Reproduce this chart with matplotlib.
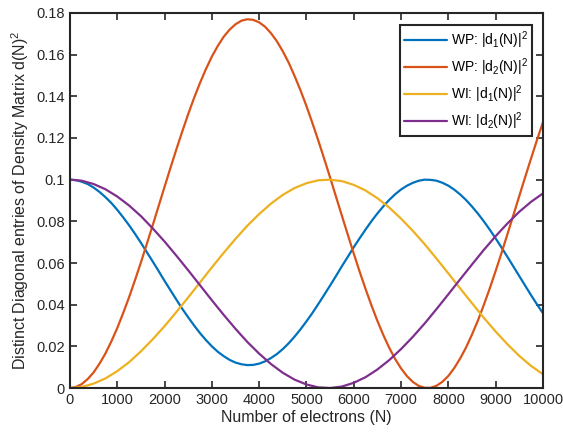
import numpy as np
import matplotlib
matplotlib.use("Agg")
from matplotlib import pyplot as plt

# valores lidos do grafico
# curvas WP lidas a cada 125 eletrons, curvas WI a cada 250
n_wp = list(range(0, 10001, 125))
n_wi = list(range(0, 10001, 250))

wp_d1 = [0.1000, 0.0998, 0.0990, 0.0979, 0.0962, 0.0941, 0.0916, 0.0888, 0.0855, 0.0819,
         0.0781, 0.0740, 0.0697, 0.0652, 0.0607, 0.0561, 0.0514, 0.0469, 0.0424, 0.0380,
         0.0339, 0.0300, 0.0263, 0.0230, 0.0200, 0.0174, 0.0153, 0.0135, 0.0122, 0.0114,
         0.0110, 0.0111, 0.0117, 0.0128, 0.0144, 0.0163, 0.0187, 0.0215, 0.0247, 0.0282,
         0.0320, 0.0360, 0.0403, 0.0447, 0.0492, 0.0538, 0.0585, 0.0630, 0.0676, 0.0719,
         0.0761, 0.0801, 0.0838, 0.0872, 0.0903, 0.0930, 0.0953, 0.0971, 0.0985, 0.0995,
         0.1000, 0.0999, 0.0995, 0.0985, 0.0971, 0.0952, 0.0929, 0.0902, 0.0871, 0.0837,
         0.0800, 0.0760, 0.0718, 0.0674, 0.0629, 0.0583, 0.0537, 0.0491, 0.0445, 0.0401,
         0.0359]
wp_d2 = [0.0000, 0.0005, 0.0019, 0.0043, 0.0075, 0.0117, 0.0166, 0.0224, 0.0288, 0.0360,
         0.0436, 0.0518, 0.0603, 0.0692, 0.0782, 0.0874, 0.0966, 0.1057, 0.1146, 0.1232,
         0.1315, 0.1393, 0.1465, 0.1531, 0.1591, 0.1642, 0.1686, 0.1720, 0.1746, 0.1763,
         0.1770, 0.1767, 0.1755, 0.1734, 0.1703, 0.1664, 0.1616, 0.1561, 0.1497, 0.1428,
         0.1353, 0.1272, 0.1188, 0.1100, 0.1010, 0.0918, 0.0826, 0.0735, 0.0645, 0.0558,
         0.0475, 0.0396, 0.0322, 0.0254, 0.0193, 0.0139, 0.0094, 0.0057, 0.0029, 0.0010,
         0.0001, 0.0001, 0.0011, 0.0030, 0.0058, 0.0096, 0.0142, 0.0195, 0.0257, 0.0324,
         0.0399, 0.0478, 0.0562, 0.0649, 0.0739, 0.0830, 0.0922, 0.1013, 0.1103, 0.1191,
         0.1276]
wi_d1 = [0.0000, 0.0005, 0.0021, 0.0046, 0.0081, 0.0124, 0.0176, 0.0234, 0.0297, 0.0365,
         0.0435, 0.0507, 0.0579, 0.0649, 0.0716, 0.0779, 0.0835, 0.0885, 0.0927, 0.0960,
         0.0983, 0.0997, 0.1000, 0.0993, 0.0975, 0.0948, 0.0911, 0.0866, 0.0813, 0.0754,
         0.0690, 0.0621, 0.0550, 0.0478, 0.0407, 0.0337, 0.0271, 0.0210, 0.0154, 0.0106,
         0.0066]
wi_d2 = [0.1000, 0.0995, 0.0979, 0.0954, 0.0919, 0.0876, 0.0825, 0.0766, 0.0703, 0.0635,
         0.0565, 0.0493, 0.0421, 0.0351, 0.0284, 0.0221, 0.0165, 0.0115, 0.0073, 0.0040,
         0.0017, 0.0003, 0.0000, 0.0007, 0.0025, 0.0052, 0.0089, 0.0134, 0.0187, 0.0246,
         0.0310, 0.0379, 0.0450, 0.0522, 0.0593, 0.0663, 0.0729, 0.0790, 0.0846, 0.0894,
         0.0934]

rotulos = ['WP: |d$_1$(N)|$^2$', 'WP: |d$_2$(N)|$^2$',
           'WI: |d$_1$(N)|$^2$', 'WI: |d$_2$(N)|$^2$']
cores = ['#0072BD', '#D95319', '#EDB120', '#7E2F8E']

plt.rcParams['font.family'] = ['Liberation Sans', 'DejaVu Sans']
plt.rcParams['mathtext.default'] = 'regular'
plt.rcParams['font.size'] = 10.5

fig = plt.figure(figsize=(5.63, 4.33), dpi=100)
ax = fig.add_axes([0.1243, 0.1039, 0.8401, 0.8661])

series = [(n_wp, wp_d1), (n_wp, wp_d2), (n_wi, wi_d1), (n_wi, wi_d2)]
for (xs, ys), rot, cor in zip(series, rotulos, cores):
    ax.plot(xs, ys, color=cor, lw=1.6, label=rot,
            solid_joinstyle='round', solid_capstyle='round')

ax.set_xlim(0, 10000)
ax.set_ylim(0, 0.18)
ax.set_xticks(np.arange(0, 10001, 1000))
ax.set_yticks(np.arange(0, 0.181, 0.02))
ax.set_yticklabels(['%g' % round(v, 2) for v in np.arange(0, 0.181, 0.02)])
ax.tick_params(direction='in', top=True, right=True, length=5, width=1.2,
               colors='#262626', labelcolor='#262626', labelsize=10.5)
for sp in ax.spines.values():
    sp.set_linewidth(1.5)
    sp.set_color('#262626')

ax.set_xlabel('Number of electrons (N)', color='#262626', fontsize=11.5, labelpad=2)
ax.set_ylabel('Distinct Diagonal entries of Density Matrix d(N)$^2$', color='#262626',
              fontsize=11.5, labelpad=4)

leg = ax.legend(loc='upper right', bbox_to_anchor=(0.977, 0.968), borderaxespad=0,
                fancybox=False, framealpha=1, edgecolor='#262626', fontsize=10,
                handlelength=3.1, handletextpad=0.25, borderpad=0.3, labelspacing=0.4)
leg.get_frame().set_linewidth(1.5)

fig.savefig('out.png', dpi=100)
